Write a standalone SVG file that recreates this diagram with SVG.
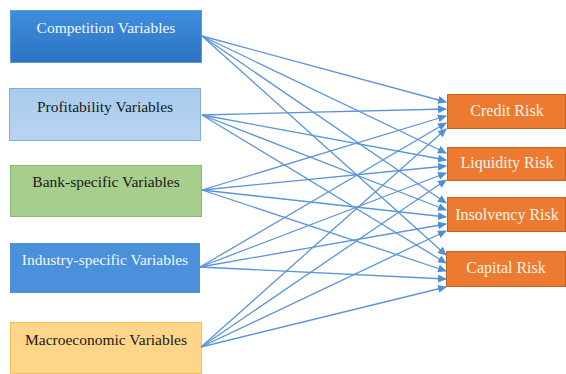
<svg xmlns="http://www.w3.org/2000/svg" width="566" height="374" viewBox="0 0 566 374">
<defs>
<linearGradient id="gBlue" x1="0" y1="0" x2="0" y2="1"><stop offset="0" stop-color="#3F8FDD"/><stop offset="1" stop-color="#2C72C2"/></linearGradient>
<linearGradient id="gLight" x1="0" y1="0" x2="0" y2="1"><stop offset="0" stop-color="#A9CBEE"/><stop offset="1" stop-color="#B9D4F0"/></linearGradient>
<marker id="ah" markerUnits="userSpaceOnUse" markerWidth="9" markerHeight="8" refX="8" refY="4" orient="auto"><path d="M0,0 L9,4 L0,8 Z" fill="#4F8FD6"/></marker>
<style>
text{font-family:'Liberation Serif','Times New Roman','DejaVu Serif',serif}
.lt{font-size:15.5px;text-anchor:middle}
.rt{font-size:16px;text-anchor:middle;fill:#FFF4E8}
.rb{fill:#EC7A30;stroke:#C8611F;stroke-width:1}
.c line{stroke:#5B95D8;stroke-width:1.3;marker-end:url(#ah)}
</style>
</defs>
<rect width="566" height="374" fill="#FFFFFF"/>
<g id="competition"><rect x="10.5" y="10.5" width="191" height="52" fill="url(#gBlue)" stroke="#5A9BD8"/><text class="lt" x="106" y="33" fill="#F2F7FD" font-family="Liberation Serif, serif">Competition Variables</text></g>
<g id="profitability"><rect x="9.5" y="88.5" width="191" height="52" fill="url(#gLight)" stroke="#7FAEDD"/><text class="lt" x="105" y="112" fill="#1A1A1A" font-family="Liberation Serif, serif">Profitability Variables</text></g>
<g id="bank"><rect x="10.5" y="165.5" width="191" height="51" fill="#A6CE8C" stroke="#8CB872"/><text class="lt" x="106" y="187" fill="#1A1A1A" font-family="Liberation Serif, serif">Bank-specific Variables</text></g>
<g id="industry"><rect x="10.5" y="243.5" width="189" height="49" fill="#4A90DA" stroke="#4A90DA"/><text class="lt" x="105" y="265" fill="#F2F7FD" font-family="Liberation Serif, serif">Industry-specific Variables</text></g>
<g id="macro"><rect x="10.5" y="322.5" width="191" height="51" fill="#FFD689" stroke="#F2C25A"/><text class="lt" x="106" y="345" fill="#1A1A1A" font-family="Liberation Serif, serif">Macroeconomic Variables</text></g>
<g id="credit"><rect class="rb" x="447.5" y="94.5" width="118" height="34"/><text class="rt" x="507" y="116" font-family="Liberation Serif, serif">Credit Risk</text></g>
<g id="liquidity"><rect class="rb" x="447.5" y="147.5" width="118" height="33"/><text class="rt" x="507" y="168" font-family="Liberation Serif, serif">Liquidity Risk</text></g>
<g id="insolvency"><rect class="rb" x="447.5" y="197.5" width="118" height="34"/><text class="rt" x="507" y="220" font-family="Liberation Serif, serif">Insolvency Risk</text></g>
<g id="capital"><rect class="rb" x="446.5" y="251.5" width="119" height="35"/><text class="rt" x="506" y="273" font-family="Liberation Serif, serif">Capital Risk</text></g>
<g id="connectors" class="c">
<line x1="202" y1="36" x2="446" y2="102"/>
<line x1="202" y1="36" x2="446" y2="153"/>
<line x1="202" y1="36" x2="446" y2="203"/>
<line x1="202" y1="36" x2="446" y2="255"/>
<line x1="202" y1="115" x2="446" y2="109"/>
<line x1="202" y1="115" x2="446" y2="160"/>
<line x1="202" y1="115" x2="446" y2="210"/>
<line x1="202" y1="115" x2="446" y2="263"/>
<line x1="202" y1="190" x2="446" y2="116"/>
<line x1="202" y1="190" x2="446" y2="166"/>
<line x1="202" y1="190" x2="446" y2="217"/>
<line x1="202" y1="190" x2="446" y2="271"/>
<line x1="200" y1="267" x2="446" y2="123"/>
<line x1="200" y1="267" x2="446" y2="173"/>
<line x1="200" y1="267" x2="446" y2="224"/>
<line x1="200" y1="267" x2="446" y2="279"/>
<line x1="201" y1="347" x2="446" y2="129"/>
<line x1="201" y1="347" x2="446" y2="180"/>
<line x1="201" y1="347" x2="446" y2="231"/>
<line x1="201" y1="347" x2="446" y2="287"/>
</g>
</svg>
